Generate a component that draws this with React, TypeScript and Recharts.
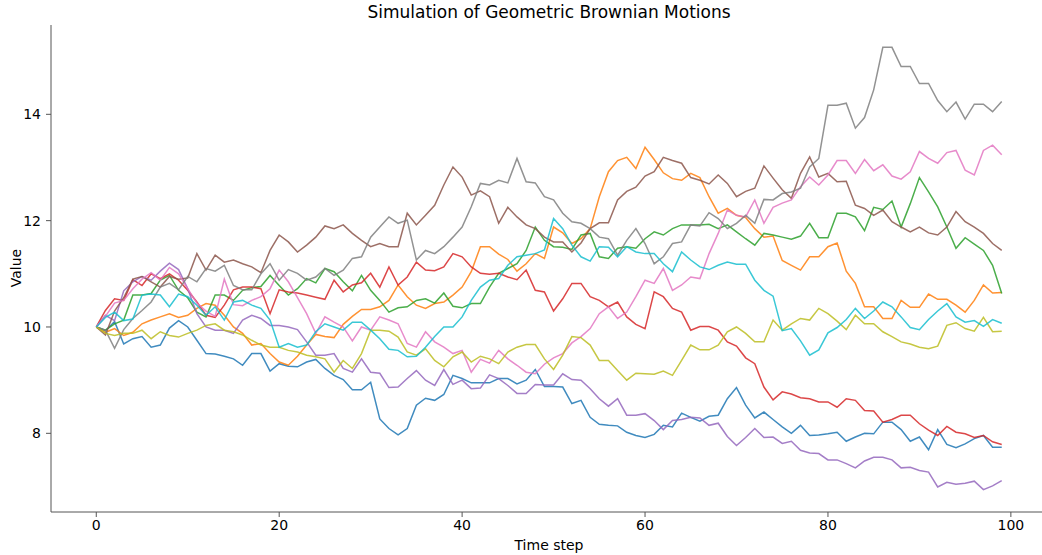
import React from 'react';
import { LineChart, Line, XAxis, YAxis } from 'recharts';

// time index 0..99
const steps: number[] = [
  0, 1, 2, 3, 4, 5, 6, 7, 8, 9, 10, 11, 12, 13, 14, 15, 16, 17, 18, 19,
  20, 21, 22, 23, 24, 25, 26, 27, 28, 29, 30, 31, 32, 33, 34, 35, 36, 37, 38, 39,
  40, 41, 42, 43, 44, 45, 46, 47, 48, 49, 50, 51, 52, 53, 54, 55, 56, 57, 58, 59,
  60, 61, 62, 63, 64, 65, 66, 67, 68, 69, 70, 71, 72, 73, 74, 75, 76, 77, 78, 79,
  80, 81, 82, 83, 84, 85, 86, 87, 88, 89, 90, 91, 92, 93, 94, 95, 96, 97, 98, 99,
];

const path0 = [
  10, 9.93, 10.1, 9.68, 9.78, 9.82, 9.62, 9.66, 9.98, 10.12, 10.0, 9.75, 9.5, 9.49, 9.45, 9.4, 9.28, 9.5, 9.5, 9.17, 9.31, 9.26,
  9.25, 9.34, 9.39, 9.22, 9.09, 9.01, 8.82, 8.82, 8.96, 8.27, 8.09, 7.97, 8.09, 8.53, 8.66, 8.62, 8.73, 9.09, 9.03, 8.95, 8.95, 8.95, 9.03, 9.03, 8.93, 9.0, 9.2,
  8.88, 8.88, 8.87, 8.56, 8.62, 8.3, 8.17, 8.15, 8.14, 8.02, 7.96, 7.92, 7.98, 8.15, 8.12, 8.38, 8.3, 8.23, 8.32, 8.34, 8.65, 8.86, 8.53, 8.29, 8.4, 8.26, 8.12,
  8.0, 8.15, 7.96, 7.97, 7.99, 8.02, 7.85, 7.93, 8.0, 7.99, 8.21, 8.21, 8.07, 7.85, 7.93, 7.69, 8.07, 7.79, 7.73, 7.8, 7.9, 7.96, 7.74, 7.74,
];
const path1 = [
  10, 9.9, 9.97, 9.84, 9.9, 10.06, 10.13, 10.19, 10.25, 10.18, 10.22, 10.35, 10.44, 10.41, 10.22, 10.0, 9.88, 9.66, 9.69, 9.5, 9.34, 9.28,
  9.45, 9.66, 9.86, 9.82, 9.8, 10.05, 10.2, 10.33, 10.33, 10.38, 10.5, 10.79, 10.57, 10.41, 10.35, 10.44, 10.47, 10.6, 10.75, 11.04, 11.51, 11.51, 11.37, 11.27, 11.05, 11.19, 11.38,
  11.29, 11.88, 11.77, 11.57, 11.66, 11.85, 12.45, 12.92, 13.13, 13.19, 12.98, 13.38, 13.15, 12.9, 12.79, 12.76, 12.89, 12.81, 12.45, 12.14, 12.23, 12.1, 12.06, 11.85, 11.69, 11.71, 11.25,
  11.16, 11.07, 11.32, 11.32, 11.51, 11.58, 11.05, 10.82, 10.38, 10.38, 10.16, 10.16, 10.5, 10.37, 10.37, 10.62, 10.52, 10.52, 10.41, 10.28, 10.5, 10.79, 10.64, 10.65,
];
const path2 = [
  10, 9.94, 10.06, 10.13, 10.6, 10.6, 10.63, 10.88, 10.97, 10.69, 10.55, 10.28, 10.19, 10.6, 10.6, 10.5, 10.69, 10.74, 10.76, 10.97, 10.78, 10.6,
  10.72, 10.91, 10.83, 11.1, 11.04, 10.85, 10.68, 10.97, 10.69, 10.5, 10.28, 10.36, 10.38, 10.5, 10.53, 10.45, 10.64, 10.39, 10.36, 10.44, 10.44, 10.75, 11.01, 11.1, 11.19, 11.44, 11.88,
  11.63, 11.51, 11.5, 11.46, 11.73, 11.76, 11.32, 11.29, 11.48, 11.51, 11.48, 11.66, 11.79, 11.73, 11.85, 11.92, 11.92, 11.92, 11.93, 11.85, 11.92, 11.79, 11.66, 11.54, 11.76, 11.73, 11.69,
  11.65, 11.71, 11.95, 11.68, 11.68, 12.14, 12.14, 12.07, 11.81, 12.25, 12.21, 12.37, 11.88, 12.32, 12.81, 12.54, 12.26, 11.88, 11.48, 11.68, 11.56, 11.44, 11.16, 10.63,
];
const path3 = [
  10, 10.31, 10.53, 10.5, 10.89, 10.78, 11.0, 10.91, 11.0, 10.88, 10.69, 10.47, 10.22, 10.18, 10.41, 10.7, 10.75, 10.75, 10.72, 10.25, 10.7, 10.66,
  10.64, 10.6, 10.56, 10.52, 10.88, 10.66, 10.79, 10.83, 11.01, 10.75, 11.13, 10.79, 10.94, 11.22, 11.07, 11.06, 11.13, 11.38, 11.32, 11.13, 11.01, 10.99, 11.01, 10.94, 10.89, 11.07, 10.69,
  10.66, 10.3, 10.53, 10.82, 10.82, 10.57, 10.5, 10.38, 10.47, 10.19, 10.05, 9.97, 10.66, 10.57, 10.35, 10.28, 9.94, 10.01, 10.01, 9.94, 9.72, 9.64, 9.42, 9.31, 8.87, 8.63, 8.78,
  8.74, 8.67, 8.65, 8.59, 8.59, 8.49, 8.65, 8.62, 8.43, 8.42, 8.21, 8.26, 8.34, 8.34, 8.18, 8.06, 7.96, 8.13, 8.02, 7.99, 7.92, 7.96, 7.84, 7.79,
];
const path4 = [
  10, 10.22, 10.12, 10.68, 10.85, 10.95, 10.88, 11.05, 11.2, 11.08, 10.72, 10.25, 10.0, 9.94, 9.94, 9.88, 10.13, 10.22, 10.16, 10.03, 10.03, 10.0,
  9.95, 9.72, 9.47, 9.47, 9.5, 9.22, 9.15, 9.4, 9.15, 9.13, 8.86, 8.87, 9.03, 9.18, 9.0, 8.9, 9.2, 8.92, 9.0, 8.84, 8.85, 9.1, 9.03, 8.9, 8.75, 8.75, 8.92,
  8.91, 8.91, 9.12, 9.01, 9.0, 8.84, 8.65, 8.51, 8.65, 8.34, 8.34, 8.37, 8.24, 8.07, 8.24, 8.26, 8.3, 8.29, 8.15, 8.19, 7.94, 7.77, 7.92, 8.09, 7.92, 7.93, 7.81,
  7.85, 7.68, 7.63, 7.62, 7.5, 7.5, 7.43, 7.35, 7.48, 7.55, 7.55, 7.5, 7.35, 7.36, 7.3, 7.27, 6.99, 7.08, 7.04, 7.06, 7.1, 6.94, 7.01, 7.11,
];
const path5 = [
  10, 9.85, 10.3, 10.55, 10.9, 10.95, 10.85, 10.75, 10.95, 10.9, 10.92, 11.38, 11.07, 11.35, 11.22, 11.26, 11.19, 11.13, 11.02, 11.44, 11.73, 11.6,
  11.41, 11.54, 11.69, 11.9, 11.85, 11.92, 11.76, 11.63, 11.51, 11.57, 11.51, 11.51, 12.14, 11.92, 12.1, 12.29, 12.67, 13.01, 12.82, 12.48, 12.56, 12.45, 11.95, 12.25, 12.07, 11.92, 11.85,
  11.69, 11.6, 11.6, 11.41, 11.58, 11.85, 11.96, 11.96, 12.39, 12.55, 12.63, 12.84, 12.92, 13.19, 13.13, 13.08, 12.81, 12.76, 12.69, 12.86, 12.7, 12.45, 12.55, 12.61, 13.03, 12.8, 12.58,
  12.42, 12.89, 13.2, 12.82, 12.89, 12.73, 12.74, 12.29, 12.23, 12.1, 12.2, 11.98, 11.88, 11.79, 11.88, 11.77, 11.73, 11.88, 12.17, 11.98, 11.88, 11.76, 11.57, 11.44,
];
const path6 = [
  10, 10.2, 10.45, 10.5, 10.72, 10.9, 11.02, 10.88, 11.12, 11.0, 10.72, 10.45, 10.3, 10.2, 10.9, 10.42, 10.4, 10.5, 10.57, 10.72, 11.07, 10.85,
  10.55, 10.25, 9.88, 10.19, 10.09, 10.0, 9.74, 10.0, 9.94, 10.19, 10.13, 10.06, 9.69, 9.62, 9.91, 9.72, 9.62, 9.5, 9.56, 9.15, 9.39, 9.32, 9.56, 9.4, 9.28, 9.15, 9.12,
  9.3, 9.42, 9.5, 9.7, 9.82, 9.97, 10.25, 10.38, 10.16, 10.28, 10.57, 10.88, 10.82, 11.1, 10.69, 10.79, 10.94, 10.91, 11.38, 11.76, 12.2, 12.1, 12.07, 12.39, 11.95, 12.25, 12.33,
  12.39, 12.64, 12.82, 12.67, 12.86, 13.13, 13.13, 12.89, 13.15, 12.94, 13.05, 12.84, 12.78, 12.92, 13.3, 13.17, 13.08, 13.28, 13.32, 12.95, 12.86, 13.32, 13.42, 13.24,
];
const path7 = [
  10, 9.94, 9.6, 9.95, 10.16, 10.31, 10.47, 10.75, 10.82, 10.7, 10.95, 10.85, 11.1, 11.05, 11.16, 10.78, 10.7, 10.7, 11.0, 11.19, 10.88, 11.08,
  11.01, 10.88, 10.94, 11.1, 10.97, 11.07, 11.29, 11.32, 11.69, 11.88, 12.07, 11.95, 12.01, 11.26, 11.44, 11.38, 11.51, 11.69, 11.88, 12.26, 12.7, 12.67, 12.76, 12.71, 13.17, 12.73, 12.71,
  12.45, 12.39, 12.14, 11.98, 11.95, 11.85, 11.69, 11.66, 11.35, 11.63, 11.85, 11.57, 11.19, 11.32, 11.57, 11.6, 11.92, 11.9, 12.15, 12.04, 11.85, 11.95, 12.1, 11.95, 12.4, 12.39, 12.51,
  12.54, 12.61, 13.01, 13.17, 14.17, 14.17, 14.21, 13.74, 13.94, 14.46, 15.26, 15.26, 14.9, 14.9, 14.58, 14.58, 14.26, 14.05, 14.23, 13.91, 14.19, 14.19, 14.05, 14.24,
];
const path8 = [
  10, 9.88, 9.84, 9.88, 9.88, 9.94, 9.78, 9.91, 9.84, 9.81, 9.88, 9.94, 10.03, 10.06, 9.94, 9.91, 9.85, 9.75, 9.66, 9.62, 9.62, 9.56,
  9.53, 9.47, 9.44, 9.4, 9.15, 9.37, 9.22, 9.5, 9.94, 9.94, 9.92, 9.81, 9.53, 9.47, 9.59, 9.37, 9.25, 9.44, 9.53, 9.34, 9.45, 9.4, 9.31, 9.53, 9.62, 9.67, 9.67,
  9.4, 9.2, 9.47, 9.82, 9.8, 9.66, 9.37, 9.37, 9.18, 9.0, 9.13, 9.12, 9.11, 9.17, 9.09, 9.37, 9.66, 9.57, 9.57, 9.66, 9.91, 10.0, 9.88, 9.72, 9.72, 10.13, 9.94,
  10.06, 10.16, 10.13, 10.35, 10.25, 10.11, 9.95, 10.22, 10.06, 10.06, 9.91, 9.82, 9.72, 9.68, 9.62, 9.59, 9.64, 10.03, 10.08, 9.97, 9.92, 10.18, 9.91, 9.92,
];
const path9 = [
  10, 10.18, 10.28, 10.12, 10.15, 10.6, 10.62, 10.6, 10.38, 10.62, 10.57, 10.41, 10.22, 10.38, 10.13, 10.47, 10.5, 10.41, 10.35, 10.13, 9.62, 9.69,
  9.62, 9.66, 9.91, 10.06, 10.0, 9.94, 10.09, 10.09, 9.94, 9.78, 9.58, 9.56, 9.44, 9.45, 9.62, 9.82, 10.0, 10.0, 10.19, 10.5, 10.75, 10.88, 10.91, 11.16, 11.32, 11.35, 11.38,
  11.45, 12.04, 11.85, 11.54, 11.32, 11.24, 11.51, 11.5, 11.32, 11.51, 11.41, 11.38, 11.38, 11.19, 11.04, 11.41, 11.26, 11.13, 11.08, 11.16, 11.22, 11.18, 11.18, 10.88, 10.69, 10.58, 9.93,
  9.97, 9.74, 9.47, 9.57, 9.89, 9.99, 10.14, 10.35, 10.16, 10.3, 10.47, 10.38, 10.19, 9.99, 9.95, 10.14, 10.3, 10.44, 10.19, 10.09, 10.12, 10.01, 10.14, 10.07,
];

const paths = [path0, path1, path2, path3, path4, path5, path6, path7, path8, path9];

// matplotlib tab10 cycle
const colors = [
  '#1f77b4', '#ff7f0e', '#2ca02c', '#d62728', '#9467bd',
  '#8c564b', '#e377c2', '#7f7f7f', '#bcbd22', '#17becf',
];

const xTicks = [0, 20, 40, 60, 80, 100];
const yTicks = [8, 10, 12, 14];

const rows = steps.map((t, i) => {
  const row: Record<string, number> = { t };
  paths.forEach((p, k) => {
    row[`s${k}`] = p[i];
  });
  return row;
});

const font = 'DejaVu Sans, sans-serif';

export default function App() {
  return (
    <div
      style={{
        position: 'absolute',
        left: 0,
        top: 0,
        width: 1042,
        height: 555,
        overflow: 'hidden',
        background: '#fff',
      }}
    >
      <LineChart
        width={1047}
        height={555}
        data={rows}
        margin={{ top: 25, right: 0, bottom: 0, left: 0 }}
      >
        <XAxis
          dataKey="t"
          type="number"
          domain={[-4.95, 103.95]}
          ticks={xTicks}
          allowDataOverflow
          height={43}
          stroke="#555"
          tickSize={5}
          tickMargin={3}
          tick={{ fill: '#000', fontSize: 14, fontFamily: font }}
        />
        <YAxis
          type="number"
          domain={[6.52, 15.68]}
          ticks={yTicks}
          allowDataOverflow
          width={51}
          stroke="#555"
          tickSize={5}
          tickMargin={5}
          tick={{ fill: '#000', fontSize: 14, fontFamily: font }}
        />
        {paths.map((_, k) => (
          <Line
            key={k}
            type="linear"
            dataKey={`s${k}`}
            stroke={colors[k]}
            strokeWidth={1.5}
            strokeOpacity={0.85}
            dot={false}
            activeDot={false}
            isAnimationActive={false}
          />
        ))}
      </LineChart>
      <svg
        width={1042}
        height={555}
        style={{ position: 'absolute', left: 0, top: 0, pointerEvents: 'none' }}
      >
        <text x={549} y={18} textAnchor="middle" fontSize={17} fontFamily={font} fill="#000">
          Simulation of Geometric Brownian Motions
        </text>
        <text x={549} y={550} textAnchor="middle" fontSize={14} fontFamily={font} fill="#000">
          Time step
        </text>
        <text
          transform="translate(21,268) rotate(-90)"
          textAnchor="middle"
          fontSize={14}
          fontFamily={font}
          fill="#000"
        >
          Value
        </text>
      </svg>
    </div>
  );
}
